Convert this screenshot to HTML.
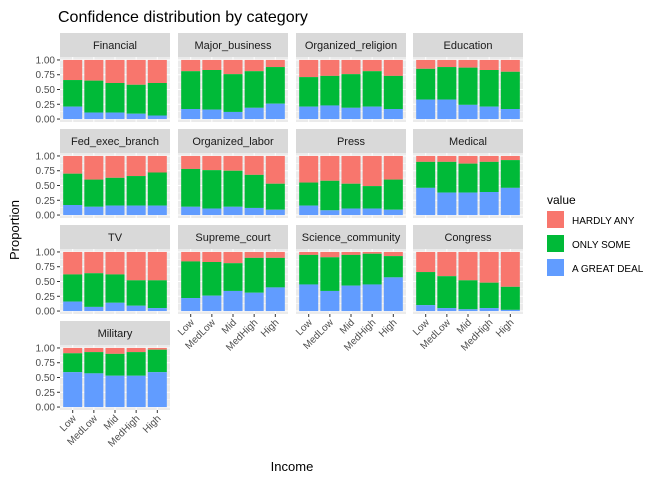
<!DOCTYPE html>
<html><head><meta charset="utf-8">
<style>
body{margin:0;background:#fff;}
svg{display:block;font-family:"Liberation Sans",Arial,sans-serif;}
</style></head>
<body>
<svg id="chart" width="672" height="480" viewBox="0 0 672 480">
<text x="58" y="22" font-size="16" fill="#000">Confidence distribution by category</text>
<text transform="translate(19,230) rotate(-90)" text-anchor="middle" font-size="13" fill="#000">Proportion</text>
<text x="292" y="471" text-anchor="middle" font-size="13" fill="#000">Income</text>
<g id="panels"></g>
<g>
<text x="547" y="204" font-size="12" fill="#000">value</text>
<rect x="547" y="211" width="17" height="17" fill="#F8766D"/>
<text x="572" y="224" font-size="10" fill="#000">HARDLY ANY</text>
<rect x="547" y="235" width="17" height="17" fill="#00BA38"/>
<text x="572" y="248" font-size="10" fill="#000">ONLY SOME</text>
<rect x="547" y="259" width="17" height="17" fill="#619CFF"/>
<text x="572" y="272" font-size="10" fill="#000">A GREAT DEAL</text>
</g>
</svg>
<script>
const categories = ["Financial","Major_business","Organized_religion","Education","Fed_exec_branch","Organized_labor","Press","Medical","TV","Supreme_court","Science_community","Congress","Military"];
const incomeLevels = ["Low","MedLow","Mid","MedHigh","High"];
const greatDeal = [
 [0.21,0.11,0.11,0.09,0.06],
 [0.17,0.16,0.12,0.19,0.26],
 [0.21,0.23,0.19,0.21,0.17],
 [0.33,0.33,0.24,0.21,0.17],
 [0.17,0.14,0.16,0.16,0.16],
 [0.14,0.11,0.14,0.12,0.09],
 [0.16,0.08,0.11,0.11,0.09],
 [0.46,0.38,0.38,0.39,0.46],
 [0.16,0.07,0.14,0.09,0.05],
 [0.22,0.26,0.34,0.31,0.40],
 [0.45,0.34,0.43,0.45,0.57],
 [0.10,0.05,0.03,0.05,0.02],
 [0.59,0.57,0.53,0.53,0.59]];
const onlySome = [
 [0.45,0.54,0.50,0.49,0.55],
 [0.64,0.67,0.64,0.62,0.62],
 [0.50,0.50,0.57,0.60,0.56],
 [0.52,0.55,0.63,0.62,0.63],
 [0.53,0.46,0.47,0.50,0.56],
 [0.64,0.65,0.61,0.56,0.44],
 [0.39,0.50,0.42,0.38,0.51],
 [0.44,0.52,0.49,0.51,0.47],
 [0.46,0.57,0.48,0.43,0.47],
 [0.62,0.57,0.47,0.59,0.50],
 [0.50,0.57,0.52,0.52,0.36],
 [0.56,0.54,0.49,0.43,0.39],
 [0.32,0.36,0.37,0.40,0.38]];
const yTicks = [0,0.25,0.5,0.75,1];
const yTickLabels = ["0.00","0.25","0.50","0.75","1.00"];

const NS="http://www.w3.org/2000/svg";
const root=document.getElementById("panels");
function mk(tag,attrs,parent){const e=document.createElementNS(NS,tag);for(const k in attrs)e.setAttribute(k,attrs[k]);parent.appendChild(e);return e;}
const colX=[60,178,296,413], rowY=[33,129,225,321], PW=110, SH=24, PH=65;
function slug(s){return s.toLowerCase().replace(/_/g,'-');}
categories.forEach((cat,i)=>{
  const col=i%4,row=Math.floor(i/4);
  const x0=colX[col], sy=rowY[row], py=sy+SH;
  const g=mk("g",{},root);
  
  
  const strip=mk("rect",{x:x0,y:sy,width:PW,height:SH,fill:"#d9d9d9"},g);
  
  
  const st=mk("text",{x:x0+PW/2,y:sy+16,"text-anchor":"middle","font-size":"11",fill:"#1a1a1a"},g);
  st.textContent=cat;
  
  
  mk("rect",{x:x0,y:py,width:PW,height:PH,fill:"#ebebeb"},g);
  const yS=v=>py+PH-PH*0.05/1.1-v*PH/1.1;
  const unit=PW/5.2;
  const xS=k=>x0+(k+1-0.4)*unit;
  for(let t=0;t<4;t++){const v=(yTicks[t]+yTicks[t+1])/2;mk("line",{x1:x0,x2:x0+PW,y1:yS(v),y2:yS(v),stroke:"#fff","stroke-width":0.5},g);}
  yTicks.forEach(v=>mk("line",{x1:x0,x2:x0+PW,y1:yS(v),y2:yS(v),stroke:"#fff","stroke-width":1},g));
  incomeLevels.forEach((l,k)=>mk("line",{x1:xS(k),x2:xS(k),y1:py,y2:py+PH,stroke:"#fff","stroke-width":1},g));
  const bw=unit*0.9;
  incomeLevels.forEach((l,k)=>{
    const b=greatDeal[i][k], s=onlySome[i][k];
    const segs=[[b+s,1,"#F8766D","hardly-any"],[b,b+s,"#00BA38","only-some"],[0,b,"#619CFF","a-great-deal"]];
    segs.forEach(([lo,hi,c,n])=>{
      const r=mk("rect",{x:xS(k)-bw/2,y:yS(hi),width:bw,height:yS(lo)-yS(hi),fill:c},g);
      
      
    });
  });
  if(col===0){
    yTicks.forEach((v,t)=>{
      mk("line",{x1:x0-3,x2:x0,y1:yS(v),y2:yS(v),stroke:"#333","stroke-width":1},g);
      const tl=mk("text",{x:x0-5,y:yS(v)+3.5,"text-anchor":"end","font-size":"10",fill:"#4d4d4d"},g);
      tl.textContent=yTickLabels[t];
      
      
    });
  }
  const bottom = (i>=9);
  if(bottom){
    incomeLevels.forEach((l,k)=>{
      const by=py+PH;
      mk("line",{x1:xS(k),x2:xS(k),y1:by,y2:by+3,stroke:"#333","stroke-width":1},g);
      const tx=xS(k)+4, ty=by+9;
      const tl=mk("text",{x:tx,y:ty,"text-anchor":"end","font-size":"10",fill:"#4d4d4d",transform:`rotate(-45 ${tx} ${ty})`},g);
      tl.textContent=l;
      
      
    });
  }
});
</script>
</body></html>
